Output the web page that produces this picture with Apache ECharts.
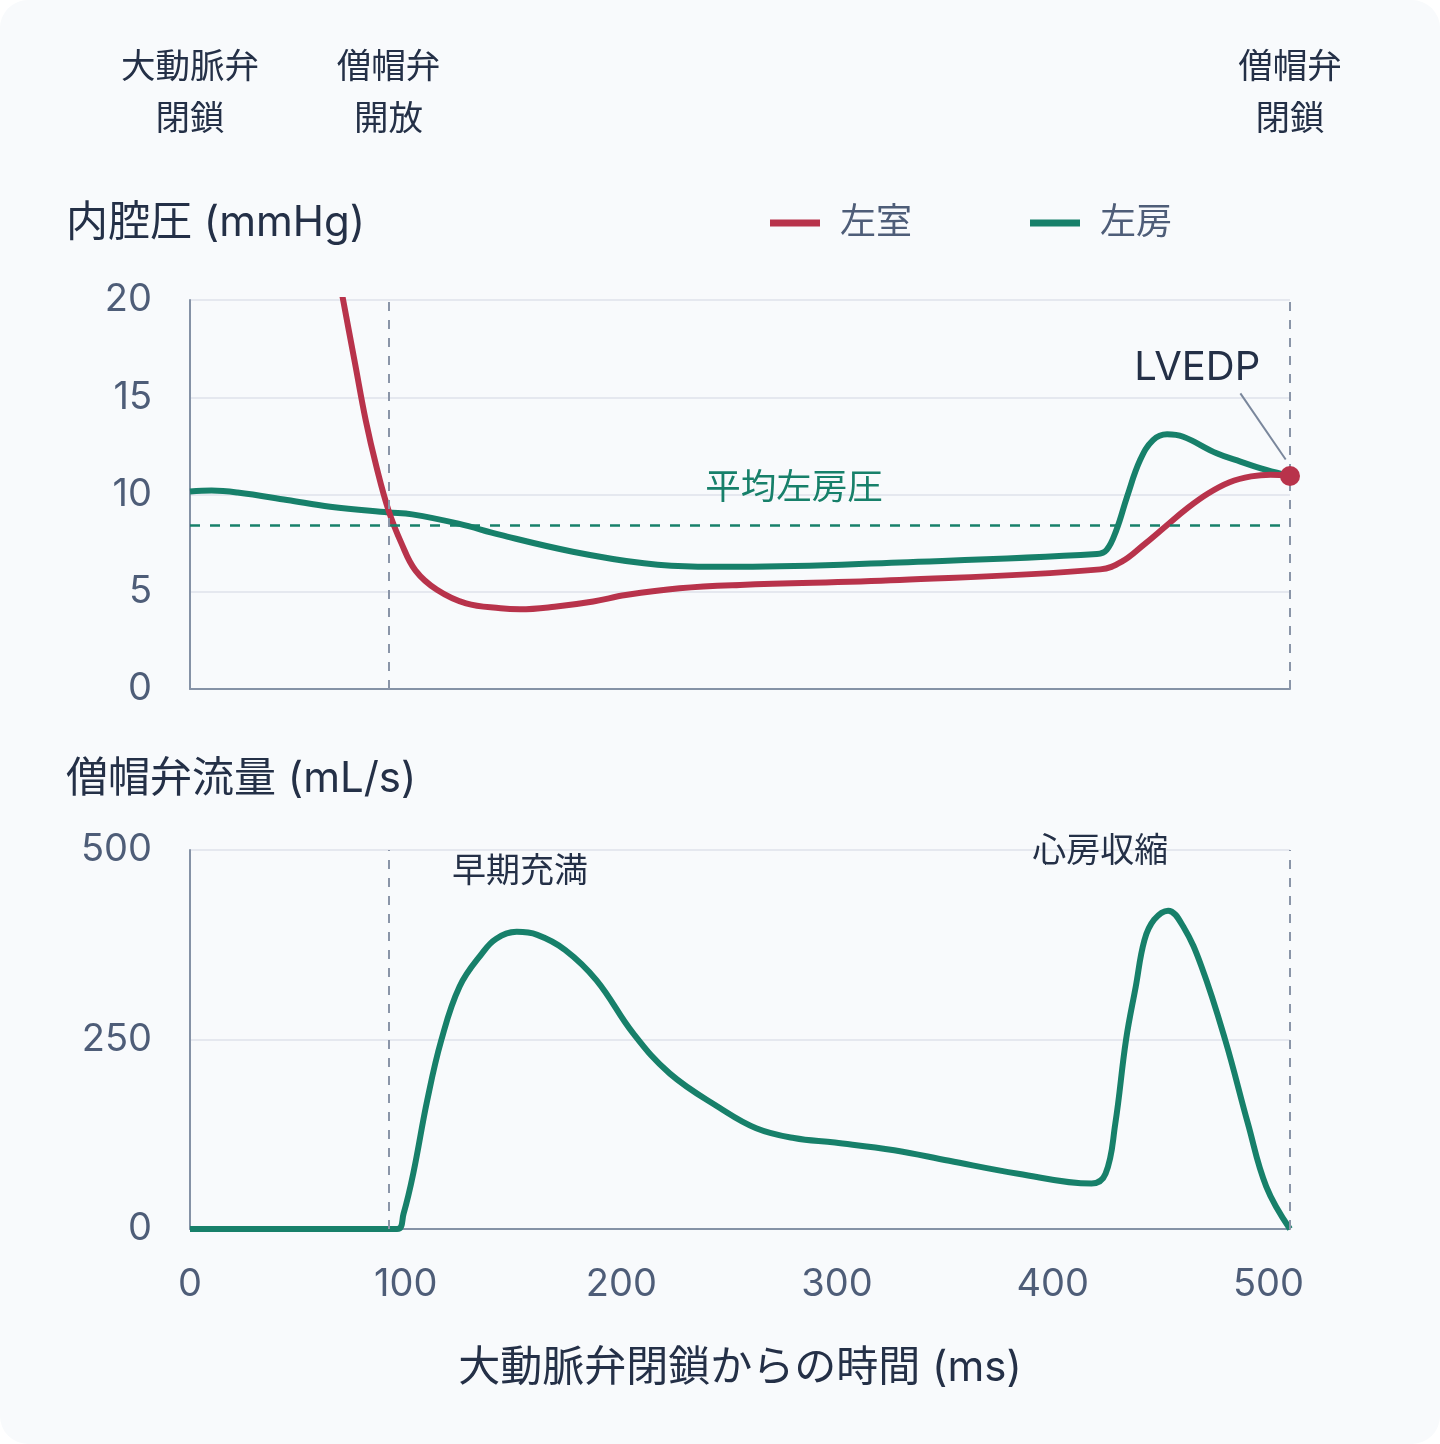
<!DOCTYPE html>
<html><head><meta charset="utf-8">
<script src="https://cdn.jsdelivr.net/npm/echarts@6/dist/echarts.min.js"></script>
<style>
html,body{margin:0;padding:0;background:#ffffff;}
#card{position:absolute;left:0;top:0;width:1440px;height:1444px;background:#f8fafc;border-radius:28px;overflow:hidden;}
#chart{width:1440px;height:1444px;}
</style></head><body><div id="card"><div id="chart"></div></div>
<script>
// ---- data ----
const tLV = [62, 66, 71, 76.5, 81.5, 86.5, 92, 98, 104.5, 114.5, 128, 144, 153, 169, 187, 202, 227, 255, 329, 422, 432, 442, 452, 462, 472, 482, 492, 501, 510];
const pLV = [26, 23, 20, 16.75, 13.8, 11.4, 9.2, 7.5, 6.1, 5.1, 4.4, 4.15, 4.1, 4.23, 4.5, 4.83, 5.18, 5.35, 5.6, 6.15, 6.55, 7.4, 8.33, 9.26, 10.05, 10.63, 10.93, 11.02, 10.95];
const tLA = [0, 10, 22, 45, 65, 92, 103, 124.5, 144, 177.5, 210.5, 235.5, 255, 329, 420.5, 425, 429.5, 434.5, 440.5, 446.5, 453, 460.5, 476, 487, 499, 510];
const pLA = [10.15, 10.2, 10.1, 9.72, 9.37, 9.08, 8.98, 8.5, 7.92, 7.06, 6.46, 6.29, 6.29, 6.51, 6.94, 7.15, 8.17, 9.9, 11.77, 12.8, 13.1, 12.97, 12.12, 11.69, 11.26, 10.95];
const tFlow = [0, 96, 99, 103.5, 110, 116.5, 125, 135.5, 142, 151.5, 161, 174, 188.5, 205.5, 222.5, 245.5, 262.5, 280, 299, 326.5, 352, 384, 418, 424.5, 429, 434, 438.5, 442.5, 447, 453.5, 460.5, 469, 480, 490.5, 499, 510];
const fFlow = [0, 0, 20, 73, 170, 249, 320, 364, 383, 392, 388, 368, 328, 258, 205, 160, 133, 120, 114, 104, 90, 73, 60, 73, 139, 250, 320, 381, 408, 420, 399, 346, 249, 139, 56, 0];
const meanLAP = 8.4;
const eventTimes = [0, 92, 510];
const eventLabels = ['大動脈弁\n閉鎖', '僧帽弁\n開放', '僧帽弁\n閉鎖'];
const xTicks = [0, 100, 200, 300, 400, 500];

const zip = (a, b) => a.map((v, i) => [v, b[i]]);
const RED = '#b8334b', GREEN = '#17806a', DARK = '#243047', SLATE = '#4e5d78';
const AXIS = '#8592a6', GRIDC = '#e5e8ef', DASH = '#8a95a8';
const FONT = 'Inter, "Noto Sans CJK JP", sans-serif';

const chart = echarts.init(document.getElementById('chart'));
const lastLV = [tLV[tLV.length - 1], pLV[pLV.length - 1]];
const textPoint = (coord, text, size, color) => ({
  coord, symbol: 'circle', symbolSize: 1, itemStyle: { color: 'rgba(0,0,0,0)' },
  label: { show: true, position: 'inside', formatter: text, fontSize: size, color, fontFamily: FONT }
});

const option = {
  animation: false,
  textStyle: { fontFamily: FONT },
  title: [
    { text: '内腔圧 (mmHg)', left: 66, top: 199, padding: 0, textStyle: { fontSize: 42, fontWeight: 'normal', color: DARK, fontFamily: FONT, lineHeight: 48 } },
    { text: '僧帽弁流量 (mL/s)', left: 66, top: 755, padding: 0, textStyle: { fontSize: 42, fontWeight: 'normal', color: DARK, fontFamily: FONT, lineHeight: 48 } }
  ],
  legend: {
    data: ['左室', '左房'], left: 770, top: 205, padding: 0,
    icon: 'rect', itemWidth: 50, itemHeight: 7, itemGap: 118,
    textStyle: { fontSize: 36, color: SLATE, fontFamily: FONT, padding: [0, 0, 0, 15] }
  },
  grid: [
    { left: 190, top: 300, width: 1100, height: 389 },
    { left: 190, top: 850, width: 1100, height: 379 }
  ],
  xAxis: [
    { type: 'value', gridIndex: 0, min: 0, max: 510, interval: 100,
      axisLine: { show: true, lineStyle: { color: AXIS, width: 2 } }, axisTick: { show: false },
      axisLabel: { show: false }, splitLine: { show: false } },
    { type: 'value', gridIndex: 0, position: 'top', min: 0, max: 510,
      axisLine: { show: false }, axisTick: { show: false }, splitLine: { show: false },
      axisLabel: { show: true, customValues: eventTimes, margin: 154,
        formatter: v => eventLabels[eventTimes.indexOf(v)] || '',
        fontSize: 34.5, lineHeight: 52, color: DARK, fontFamily: FONT } },
    { type: 'value', gridIndex: 1, min: 0, max: 510, interval: 100,
      axisLine: { show: true, lineStyle: { color: AXIS, width: 2 } }, axisTick: { show: false },
      splitLine: { show: false },
      axisLabel: { show: true, customValues: xTicks, margin: 37, fontSize: 38, color: SLATE, fontFamily: FONT },
      name: '大動脈弁閉鎖からの時間 (ms)', nameLocation: 'middle', nameGap: 118,
      nameTextStyle: { fontSize: 42, color: DARK, fontFamily: FONT } }
  ],
  yAxis: [
    { type: 'value', gridIndex: 0, min: 0, max: 20, interval: 5,
      axisLine: { show: true, lineStyle: { color: AXIS, width: 2 } }, axisTick: { show: false },
      axisLabel: { margin: 38, fontSize: 38, color: SLATE, fontFamily: FONT },
      splitLine: { show: true, lineStyle: { color: GRIDC, width: 2 } } },
    { type: 'value', gridIndex: 1, min: 0, max: 500, interval: 250,
      axisLine: { show: true, lineStyle: { color: AXIS, width: 2 } }, axisTick: { show: false },
      axisLabel: { margin: 38, fontSize: 38, color: SLATE, fontFamily: FONT },
      splitLine: { show: true, lineStyle: { color: GRIDC, width: 2 } } }
  ],
  series: [
    { name: '左室', type: 'line', xAxisIndex: 0, yAxisIndex: 0, data: zip(tLV, pLV),
      smooth: 0.4, showSymbol: false, symbol: 'none', z: 4,
      lineStyle: { color: RED, width: 6 }, itemStyle: { color: RED },
      markLine: { silent: true, symbol: 'none', animation: false,
        data: [
          { xAxis: eventTimes[1], lineStyle: { color: DASH, type: [9, 9], width: 2 }, label: { show: false } },
          { xAxis: eventTimes[2], lineStyle: { color: DASH, type: [9, 9], width: 2 }, label: { show: false } },
          [ { coord: [487, 15.2], lineStyle: { color: '#7a879c', type: 'solid', width: 2 }, label: { show: false } }, { coord: [508, 11.8] } ]
        ] },
      markPoint: { silent: true, animation: false,
        data: [
          { coord: lastLV, symbol: 'circle', symbolSize: 20, itemStyle: { color: RED }, label: { show: false } },
          textPoint([467, 16.5], 'LVEDP', 40, DARK)
        ] } },
    { name: '左房', type: 'line', xAxisIndex: 0, yAxisIndex: 0, data: zip(tLA, pLA),
      smooth: 0.4, showSymbol: false, symbol: 'none', z: 3,
      lineStyle: { color: GREEN, width: 6 }, itemStyle: { color: GREEN },
      markLine: { silent: true, symbol: 'none', animation: false,
        data: [ { yAxis: meanLAP, lineStyle: { color: GREEN, type: [10, 10], width: 2.5 }, label: { show: false } } ] },
      markPoint: { silent: true, animation: false,
        data: [ textPoint([280, 10.3], '平均左房圧', 35.5, GREEN) ] } },
    { name: '僧帽弁流量', type: 'line', xAxisIndex: 2, yAxisIndex: 1, data: zip(tFlow, fFlow),
      smooth: 0.4, showSymbol: false, symbol: 'none',
      lineStyle: { color: GREEN, width: 6 }, itemStyle: { color: GREEN },
      markLine: { silent: true, symbol: 'none', animation: false,
        data: [
          { xAxis: eventTimes[1], lineStyle: { color: DASH, type: [9, 9], width: 2 }, label: { show: false } },
          { xAxis: eventTimes[2], lineStyle: { color: DASH, type: [9, 9], width: 2 }, label: { show: false } }
        ] },
      markPoint: { silent: true, animation: false,
        data: [
          textPoint([153, 471], '早期充満', 34, DARK),
          textPoint([422, 497], '心房収縮', 34, DARK)
        ] } }
  ]
};
chart.setOption(option);
</script>
</body></html>
